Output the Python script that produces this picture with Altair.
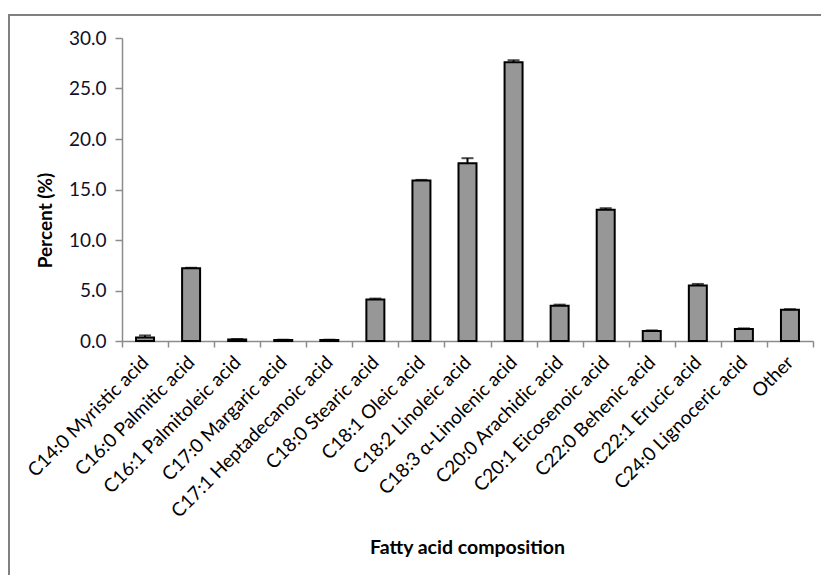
import altair as alt
import pandas as pd

# Fatty acid profile: mean percentage and standard deviation per acid
acids = [
    "C14:0 Myristic acid",
    "C16:0 Palmitic acid",
    "C16:1 Palmitoleic acid",
    "C17:0 Margaric acid",
    "C17:1 Heptadecanoic acid",
    "C18:0 Stearic acid",
    "C18:1 Oleic acid",
    "C18:2 Linoleic acid",
    "C18:3 \u03b1-Linolenic acid",
    "C20:0 Arachidic acid",
    "C20:1 Eicosenoic acid",
    "C22:0 Behenic acid",
    "C22:1 Erucic acid",
    "C24:0 Lignoceric acid",
    "Other",
]
percent = [0.35, 7.2, 0.15, 0.1, 0.1, 4.1, 15.9, 17.6, 27.6, 3.5, 13.0, 1.0, 5.5, 1.2, 3.1]
sd = [0.2, 0.05, 0.05, 0.03, 0.03, 0.1, 0.05, 0.5, 0.2, 0.1, 0.15, 0.05, 0.15, 0.05, 0.05]

df = pd.DataFrame({"acid": acids, "pct": percent, "sd": sd})
df["top"] = df["pct"] + df["sd"]

FONT = "Lato"
GRAY = "#8c8c8c"

x_enc = alt.X(
    "acid:N",
    sort=acids,
    scale=alt.Scale(paddingInner=0, paddingOuter=0),
    axis=alt.Axis(
        title="Fatty acid composition",
        titleFont=FONT,
        titleFontSize=19.5,
        titleFontWeight="bold",
        titleColor="#000",
        titleX=345,
        titleY=206,
        titleBaseline="middle",
        labelAngle=-45,
        labelAlign="right",
        labelBaseline="middle",
        labelPadding=12,
        labelFont=FONT,
        labelFontSize=19,
        labelColor="#000",
        labelLimit=400,
        tickBand="extent",
        tickSize=6,
        tickColor=GRAY,
        tickWidth=1.5,
        domainColor=GRAY,
        domainWidth=1.5,
        grid=False,
    ),
)

y_scale = alt.Scale(domain=[0, 30], nice=False)

bars = alt.Chart(df).mark_bar(
    size=18, fill="#979797", stroke="#000", strokeWidth=2
).encode(
    x=x_enc,
    y=alt.Y(
        "pct:Q",
        scale=y_scale,
        axis=alt.Axis(
            title="Percent (%)",
            titleFont=FONT,
            titleFontSize=19,
            titleFontWeight="bold",
            titleColor="#000",
            titleAngle=270,
            titleX=-77,
            titleY=182,
            titleAlign="center",
            titleBaseline="middle",
            values=[0, 5, 10, 15, 20, 25, 30],
            format=".1f",
            labelFont=FONT,
            labelFontSize=19,
            labelColor="#10102a",
            labelPadding=9,
            tickSize=7,
            tickColor=GRAY,
            tickWidth=1.5,
            domainColor=GRAY,
            domainWidth=1.5,
            grid=False,
        ),
    ),
)

# upper error whiskers with caps
whisker = alt.Chart(df).mark_rule(color="#000", strokeWidth=2).encode(
    x=alt.X("acid:N", sort=acids),
    y=alt.Y("pct:Q", scale=y_scale),
    y2="top:Q",
)
caps = alt.Chart(df).mark_tick(color="#000", thickness=2, size=12, orient="horizontal").encode(
    x=alt.X("acid:N", sort=acids),
    y=alt.Y("top:Q", scale=y_scale),
)

# outer frame lines of the figure box
frame = pd.DataFrame({"k": [0]})
frame_left = alt.Chart(frame).mark_rule(color="#808080", strokeWidth=2).encode(
    x=alt.value(-113), y=alt.value(-23), y2=alt.value(600)
)
frame_top = alt.Chart(frame).mark_rule(color="#808080", strokeWidth=2).encode(
    x=alt.value(-114), x2=alt.value(760), y=alt.value(-23)
)

chart = (
    alt.layer(frame_left, frame_top, bars, whisker, caps)
    .properties(
        width=691,
        height=303,
        autosize=alt.AutoSizeParams(type="none"),
        padding={"left": 122, "top": 38, "right": 8, "bottom": 234},
        background="#ffffff",
    )
    .configure_view(stroke=None)
)

chart.save("out.html", embed_options={"renderer": "svg", "actions": False})
